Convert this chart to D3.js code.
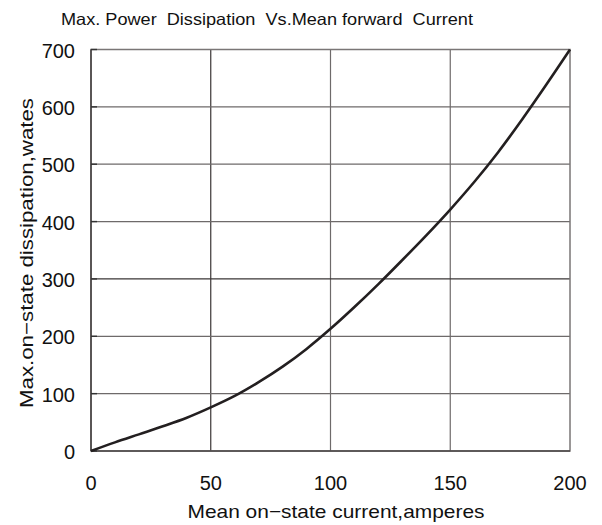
<!DOCTYPE html>
<html><head><meta charset="utf-8">
<script src="https://cdn.jsdelivr.net/npm/d3@7"></script>
<style>body{margin:0;background:#fff;}svg{display:block;}text{font-family:"Liberation Sans",Arial,sans-serif;fill:#111;}</style>
</head><body>
<svg id="c" width="602" height="525"></svg>
<script>
const currents = [0,10,20,30,40,50,60,70,80,90,100,110,120,130,140,150,160,170,180,190,200];
const dissipation = [0,15,29,43,58,76,96,120,147,178,213,251,291,333,376,421,469,521,578,638,700];
const xTicks = [0,50,100,150,200];
const yTicks = [0,100,200,300,400,500,600,700];
const title = "Max. Power  Dissipation  Vs.Mean forward  Current";
const xLabel = "Mean on\u2212state current,amperes";
const yLabel = "Max.on\u2212state dissipation,wates";

const svg = d3.select("#c");
const L=91, R=570, T=49.5, B=451;
const x = d3.scaleLinear().domain([0,200]).range([L,R]);
const y = d3.scaleLinear().domain([0,700]).range([B,T]);

// grid
svg.append("g").selectAll("line").data(xTicks.slice(1,-1)).join("line")
  .attr("x1",d=>x(d)).attr("x2",d=>x(d)).attr("y1",T).attr("y2",B)
  .attr("stroke",(d,i)=>i===0?"#3a3636":"#6e6a6a").attr("stroke-width",1.2);
svg.append("g").selectAll("line").data(yTicks.slice(1,-1)).join("line")
  .attr("x1",L).attr("x2",R).attr("y1",d=>y(d)).attr("y2",d=>y(d))
  .attr("stroke",d=>d===300?"#3a3636":"#6e6a6a").attr("stroke-width",1.2);
// frame
svg.append("rect").attr("x",L).attr("y",T).attr("width",R-L).attr("height",B-T)
  .attr("fill","none").attr("stroke","#7a7676").attr("stroke-width",1.5);
svg.append("line").attr("x1",L).attr("x2",L).attr("y1",T).attr("y2",B).attr("stroke","#4a4646").attr("stroke-width",1.6);
svg.append("line").attr("x1",L).attr("x2",R).attr("y1",B).attr("y2",B).attr("stroke","#4a4646").attr("stroke-width",1.6);
// small inner ticks on y axis
svg.append("g").selectAll("line").data(yTicks).join("line")
  .attr("x1",L).attr("x2",L+6).attr("y1",d=>y(d)).attr("y2",d=>y(d))
  .attr("stroke","#333").attr("stroke-width",1.4);

// tick labels
svg.append("g").selectAll("text").data(xTicks).join("text")
  .attr("x",d=>x(d)).attr("y",490).attr("text-anchor","middle")
  .attr("font-size",20).text(d=>d);
svg.append("g").selectAll("text").data(yTicks).join("text")
  .attr("x",75).attr("y",d=>y(d)+8).attr("text-anchor","end")
  .attr("font-size",20).text(d=>d);

// curve
const line = d3.line().x((d,i)=>x(currents[i])).y(d=>y(d)).curve(d3.curveCatmullRom);
svg.append("path").datum(dissipation).attr("d",line)
  .attr("fill","none").attr("stroke","#231f20").attr("stroke-width",2.6);

// labels
svg.append("text").attr("x",267).attr("y",25).attr("text-anchor","middle")
  .attr("font-size",16.5).attr("textLength",412).attr("lengthAdjust","spacingAndGlyphs")
  .attr("xml:space","preserve").style("white-space","pre").text(title);
svg.append("text").attr("x",336).attr("y",518).attr("text-anchor","middle")
  .attr("font-size",18.5).attr("textLength",297).attr("lengthAdjust","spacingAndGlyphs").text(xLabel);
svg.append("text").attr("transform",`translate(33,253) rotate(-90)`)
  .attr("text-anchor","middle").attr("font-size",18.5)
  .attr("textLength",310).attr("lengthAdjust","spacingAndGlyphs").text(yLabel);
</script>
</body></html>
